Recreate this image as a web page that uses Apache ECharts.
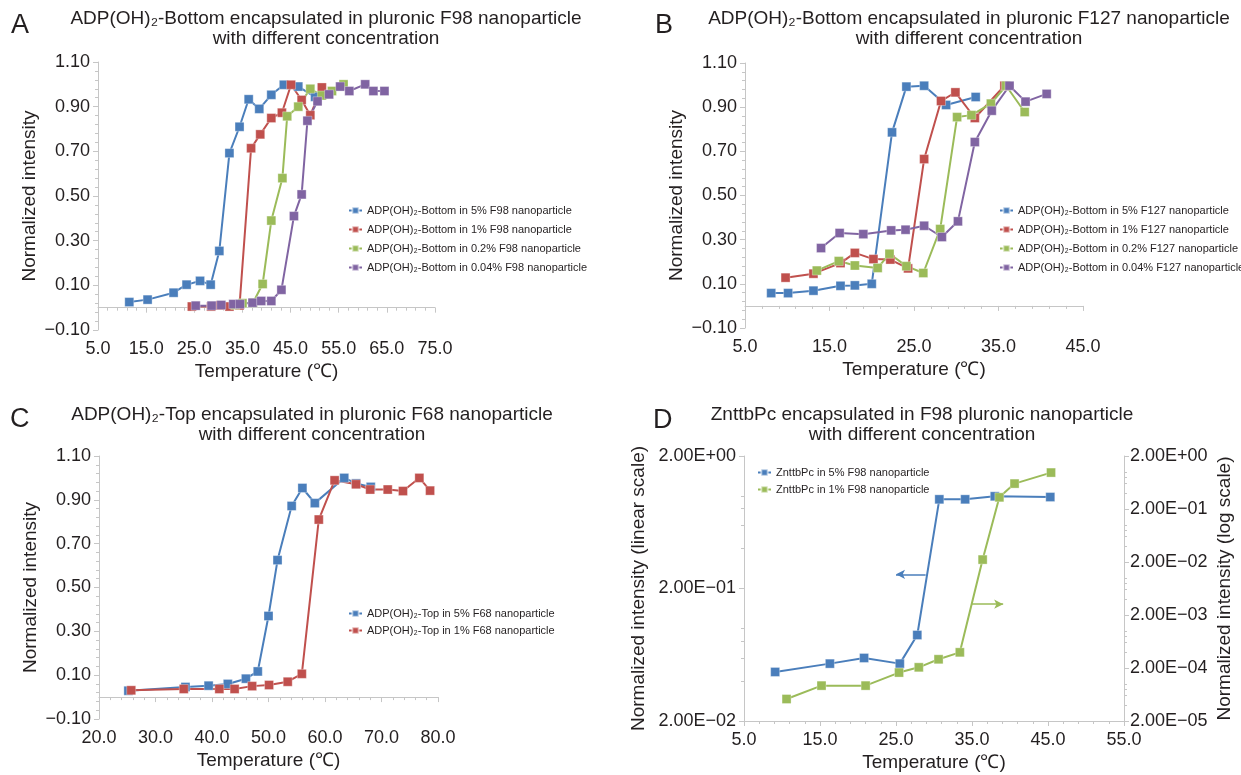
<!DOCTYPE html>
<html>
<head>
<meta charset="utf-8">
<title>Pluronic nanoparticle intensity vs temperature</title>
<script src="https://cdn.jsdelivr.net/npm/echarts@6/dist/echarts.min.js"></script>
<style>
  html, body { margin: 0; padding: 0; background: #fff; }
  #main { width: 1241px; height: 775px; }
</style>
</head>
<body>
<div id="main"></div>
<script>
// ---- data: [temperature (℃), normalized intensity] ----
// A: ADP(OH)2-Bottom in F98
const f98_5 = [[11.5, 0.025], [15.3, 0.036], [20.7, 0.067], [23.4, 0.103], [26.2, 0.12], [28.4, 0.103], [30.2, 0.254], [32.3, 0.692], [34.4, 0.81], [36.3, 0.933], [38.5, 0.89], [41.0, 0.953], [43.6, 0.998], [46.6, 0.99], [50.1, 0.944]]
const f98_1 = [[24.5, 0.005], [28.5, 0.005], [30.4, 0.01], [32.3, 0.005], [34.4, 0.01], [36.8, 0.714], [38.7, 0.776], [41.0, 0.849], [43.2, 0.873], [45.1, 0.998], [47.3, 0.93], [49.1, 0.862], [51.5, 0.986]]
const f98_02 = [[33.5, 0.012], [35.0, 0.02], [37.2, 0.022], [39.2, 0.106], [41.0, 0.39], [43.3, 0.58], [44.3, 0.857], [46.6, 0.90], [49.1, 0.98], [51.5, 0.95], [53.6, 0.97], [56.0, 1.0]]
const f98_004 = [[25.3, 0.009], [28.6, 0.009], [30.6, 0.012], [33.1, 0.016], [34.5, 0.016], [37.1, 0.022], [38.9, 0.03], [41.0, 0.03], [43.1, 0.08], [45.7, 0.41], [47.3, 0.507], [48.5, 0.837], [50.6, 0.924], [53.0, 0.955], [55.3, 0.99], [57.2, 0.97], [60.5, 1.0], [62.2, 0.97], [64.5, 0.97]]
// B: ADP(OH)2-Bottom in F127
const f127_5 = [[8.1, 0.058], [10.1, 0.058], [13.1, 0.069], [16.3, 0.091], [18.0, 0.093], [20.0, 0.10], [22.4, 0.786], [24.1, 0.993], [26.2, 0.997], [28.8, 0.91], [32.3, 0.946]]
const f127_1 = [[9.8, 0.128], [13.1, 0.146], [16.3, 0.194], [18.0, 0.24], [20.2, 0.212], [22.2, 0.21], [24.3, 0.17], [26.2, 0.665], [28.2, 0.928], [29.9, 0.967], [32.2, 0.851], [35.7, 0.997]]
const f127_02 = [[13.5, 0.16], [16.1, 0.203], [18.0, 0.183], [20.7, 0.172], [22.1, 0.236], [24.1, 0.18], [26.1, 0.149], [28.1, 0.348], [30.1, 0.855], [31.8, 0.864], [34.1, 0.916], [35.9, 0.997], [38.1, 0.878]]
const f127_004 = [[14.0, 0.262], [16.2, 0.33], [19.0, 0.325], [22.3, 0.342], [24.0, 0.345], [26.2, 0.363], [28.3, 0.312], [30.2, 0.383], [32.2, 0.742], [34.2, 0.884], [36.3, 0.997], [38.2, 0.925], [40.7, 0.96]]
// C: ADP(OH)2-Top in F68
const f68_5 = [[25.2, 0.029], [35.3, 0.046], [39.4, 0.052], [42.8, 0.06], [46.0, 0.084], [48.1, 0.117], [50.0, 0.37], [51.6, 0.625], [54.1, 0.872], [56.0, 0.954], [58.2, 0.885], [63.4, 1.0], [65.5, 0.975], [68.1, 0.959]]
const f68_1 = [[25.7, 0.031], [35.0, 0.037], [41.3, 0.037], [44.0, 0.037], [47.1, 0.05], [50.1, 0.055], [53.4, 0.07], [55.9, 0.106], [58.9, 0.81], [61.7, 0.989], [65.5, 0.971], [68.0, 0.947], [71.1, 0.947], [73.8, 0.94], [76.7, 1.0], [78.6, 0.942]]
// D: ZnttbPc in F98 (5% on left axis, 1% on right axis)
const zn5 = [[9.1, 0.0469], [16.3, 0.0542], [20.8, 0.0598], [25.5, 0.0542], [27.8, 0.0891], [30.7, 0.942], [34.1, 0.942], [38.0, 0.993], [45.3, 0.98]]
const zn1 = [[10.6, 5.2e-5], [15.2, 9.3e-5], [21.0, 9.3e-5], [25.4, 1.64e-4], [28.0, 2.06e-4], [30.6, 2.92e-4], [33.4, 3.95e-4], [36.4, 0.0222], [38.6, 0.332], [40.6, 0.603], [45.4, 0.973]]
// arrows pointing at the axis each curve belongs to
const arrowLeft = [[28.9, 0.256], [25.0, 0.256]]
const arrowRight = [[35.0, 3.2e-3], [39.1, 3.2e-3]]

// ---- tick labels ----
const xTicksA = [5, 15, 25, 35, 45, 55, 65, 75]
const xTicksB = [5, 15, 25, 35, 45]
const xTicksC = [20, 30, 40, 50, 60, 70, 80]
const xTicksD = [5, 15, 25, 35, 45, 55]
const yTicks = [-0.1, 0.1, 0.3, 0.5, 0.7, 0.9, 1.1]
const yTicksDLeft = [0.02, 0.2, 2]
const yTicksDRight = [2e-5, 2e-4, 2e-3, 2e-2, 2e-1, 2]

const namesA = ['ADP(OH)₂-Bottom in 5% F98 nanoparticle', 'ADP(OH)₂-Bottom in 1% F98 nanoparticle', 'ADP(OH)₂-Bottom in 0.2% F98 nanoparticle', 'ADP(OH)₂-Bottom in 0.04% F98 nanoparticle']
const namesB = ['ADP(OH)₂-Bottom in 5% F127 nanoparticle', 'ADP(OH)₂-Bottom in 1% F127 nanoparticle', 'ADP(OH)₂-Bottom in 0.2% F127 nanoparticle', 'ADP(OH)₂-Bottom in 0.04% F127 nanoparticle']
const namesC = ['ADP(OH)₂-Top in 5% F68 nanoparticle', 'ADP(OH)₂-Top in 1% F68 nanoparticle']
const namesD = ['ZnttbPc in 5% F98 nanoparticle', 'ZnttbPc in 1% F98 nanoparticle']

const FONT = "'Liberation Sans', Arial, Helvetica, sans-serif"
const TEXT = '#231f20'
const GREY = '#c6c6c6'
const BLUE = '#4a7ebb'
const RED = '#c0504d'
const GREEN = '#9bbb59'
const PURPLE = '#8064a2'

const chart = echarts.init(document.getElementById('main'))

// 标签格式
const fmtFixed = d => v => v.toFixed(d).replace('-', '−')
const fmtExp = v => {
  const parts = v.toExponential(2).split('e')
  const exp = parseInt(parts[1], 10)
  const sign = exp < 0 ? '−' : '+'
  return parts[0] + 'E' + sign + String(Math.abs(exp)).padStart(2, '0')
}

// 次刻度：在相邻主刻度之间等分
const minorLinear = (ticks, n) => {
  const out = []
  for (let i = 0; i < ticks.length - 1; i++) {
    const step = (ticks[i + 1] - ticks[i]) / n
    for (let k = 1; k < n; k++) out.push(+(ticks[i] + step * k).toFixed(6))
  }
  return out
}
// 对数轴次刻度 (2x,3x,4x,5x of each decade below the major tick)
const minorLog = ticks => {
  const out = []
  for (let i = 0; i < ticks.length - 1; i++) {
    const base = ticks[i] / 2
    ;[4, 6, 8, 10].forEach(m => out.push(+(base * m).toPrecision(4)))
  }
  return out
}

const xAxis = []
const yAxis = []

function mainAxis (list, gi, type, min, max, ticks, fmt, margin, extra) {
  list.push(Object.assign({
    gridIndex: gi,
    type: type,
    min: min,
    max: max,
    axisLine: { show: true, lineStyle: { color: GREY, width: 1 } },
    axisTick: { show: true, length: 5, customValues: ticks, lineStyle: { color: GREY } },
    axisLabel: { customValues: ticks, formatter: fmt, color: TEXT, fontSize: 18, fontFamily: FONT, margin: margin },
    splitLine: { show: false },
    nameLocation: 'middle',
    nameTextStyle: { color: TEXT, fontSize: 19, fontFamily: FONT }
  }, extra))
  return list.length - 1
}
function minorAxis (list, gi, type, min, max, ticks, extra) {
  list.push(Object.assign({
    gridIndex: gi,
    type: type,
    min: min,
    max: max,
    axisLine: { show: false },
    axisTick: { show: true, length: 3, customValues: ticks, lineStyle: { color: GREY } },
    axisLabel: { show: false },
    splitLine: { show: false }
  }, extra))
}

// x axes
const xName = { name: 'Temperature (℃)', nameGap: 32, position: 'bottom' }
const xA = mainAxis(xAxis, 0, 'value', 5, 75, xTicksA, fmtFixed(1), 10, xName)
const xB = mainAxis(xAxis, 1, 'value', 5, 45, xTicksB, fmtFixed(1), 10, xName)
const xC = mainAxis(xAxis, 2, 'value', 20, 80, xTicksC, fmtFixed(1), 10, xName)
const xD = mainAxis(xAxis, 3, 'value', 5, 55, xTicksD, fmtFixed(1), 10, xName)
minorAxis(xAxis, 0, 'value', 5, 75, minorLinear(xTicksA, 5), { position: 'bottom' })
minorAxis(xAxis, 1, 'value', 5, 45, minorLinear(xTicksB, 5), { position: 'bottom' })
minorAxis(xAxis, 2, 'value', 20, 80, minorLinear(xTicksC, 5), { position: 'bottom' })
minorAxis(xAxis, 3, 'value', 5, 55, minorLinear(xTicksD, 5), { position: 'bottom' })

// y axes
const yName = { name: 'Normalized intensity', nameGap: 59, position: 'left' }
const yA = mainAxis(yAxis, 0, 'value', -0.1, 1.1, yTicks, fmtFixed(2), 8, yName)
const yB = mainAxis(yAxis, 1, 'value', -0.1, 1.1, yTicks, fmtFixed(2), 8, yName)
const yC = mainAxis(yAxis, 2, 'value', -0.1, 1.1, yTicks, fmtFixed(2), 8, yName)
const yDL = mainAxis(yAxis, 3, 'log', 0.02, 2, yTicksDLeft, fmtExp, 8, { name: 'Normalized intensity (linear scale)', nameGap: 96, position: 'left' })
const yDR = mainAxis(yAxis, 3, 'log', 2e-5, 2, yTicksDRight, fmtExp, 6, { name: 'Normalized intensity (log scale)', nameGap: 91, position: 'right' })
minorAxis(yAxis, 0, 'value', -0.1, 1.1, minorLinear(yTicks, 5), { position: 'left' })
minorAxis(yAxis, 1, 'value', -0.1, 1.1, minorLinear(yTicks, 5), { position: 'left' })
minorAxis(yAxis, 2, 'value', -0.1, 1.1, minorLinear(yTicks, 5), { position: 'left' })
minorAxis(yAxis, 3, 'log', 0.02, 2, minorLog(yTicksDLeft), { position: 'left' })
minorAxis(yAxis, 3, 'log', 2e-5, 2, minorLog(yTicksDRight), { position: 'right' })

function line (name, data, color, xi, yi) {
  return {
    type: 'line',
    name: name,
    data: data,
    xAxisIndex: xi,
    yAxisIndex: yi,
    symbol: 'rect',
    symbolSize: 9,
    showSymbol: true,
    lineStyle: { color: color, width: 2 },
    itemStyle: { color: color, borderColor: 'rgba(255,255,255,0.55)', borderWidth: 0.6 },
    emphasis: { disabled: true },
    silent: true
  }
}
function arrow (pts, color) {
  return {
    silent: true,
    symbol: ['none', 'arrow'],
    symbolSize: [7, 9],
    label: { show: false },
    lineStyle: { color: color, width: 1.5, type: 'solid' },
    data: [[{ coord: pts[0] }, { coord: pts[1] }]]
  }
}

const series = [
  line(namesA[0], f98_5, BLUE, xA, yA),
  line(namesA[1], f98_1, RED, xA, yA),
  line(namesA[2], f98_02, GREEN, xA, yA),
  line(namesA[3], f98_004, PURPLE, xA, yA),
  line(namesB[0], f127_5, BLUE, xB, yB),
  line(namesB[1], f127_1, RED, xB, yB),
  line(namesB[2], f127_02, GREEN, xB, yB),
  line(namesB[3], f127_004, PURPLE, xB, yB),
  line(namesC[0], f68_5, BLUE, xC, yC),
  line(namesC[1], f68_1, RED, xC, yC),
  Object.assign(line(namesD[0], zn5, BLUE, xD, yDL), { markLine: arrow(arrowLeft, BLUE) }),
  Object.assign(line(namesD[1], zn1, GREEN, xD, yDR), { markLine: arrow(arrowRight, GREEN) })
]

const legendBase = {
  orient: 'vertical',
  padding: 0,
  itemWidth: 13,
  itemHeight: 8,
  selectedMode: false,
  textStyle: { fontSize: 11, color: TEXT, fontFamily: FONT }
}

const titleStyle = { fontSize: 19, fontWeight: 'normal', color: TEXT, fontFamily: FONT, lineHeight: 20 }
const letterStyle = { fontSize: 27, fontWeight: 'normal', color: TEXT, fontFamily: FONT }
const heading = (text, cx, top) => ({ text: text, left: cx, top: top, textAlign: 'center', padding: 0, textStyle: titleStyle })
const letter = (text, x, y) => ({ text: text, left: x, top: y, padding: 0, textStyle: letterStyle })

const option = {
  animation: false,
  backgroundColor: '#fff',
  textStyle: { fontFamily: FONT },
  title: [
    letter('A', 11, 12),
    letter('B', 655, 12),
    letter('C', 10, 406),
    letter('D', 653, 407),
    heading('ADP(OH)₂-Bottom encapsulated in pluronic F98 nanoparticle\nwith different concentration', 326, 9),
    heading('ADP(OH)₂-Bottom encapsulated in pluronic F127 nanoparticle\nwith different concentration', 969, 9),
    heading('ADP(OH)₂-Top encapsulated in pluronic F68 nanoparticle\nwith different concentration', 312, 405),
    heading('ZnttbPc encapsulated in F98 pluronic nanoparticle\nwith different concentration', 922, 405)
  ],
  legend: [
    Object.assign({ data: namesA, left: 348, top: 205, itemGap: 8 }, legendBase),
    Object.assign({ data: namesB, left: 999, top: 205, itemGap: 8 }, legendBase),
    Object.assign({ data: namesC, left: 348, top: 608, itemGap: 6 }, legendBase),
    Object.assign({ data: namesD, left: 757, top: 467, itemGap: 6 }, legendBase)
  ],
  grid: [
    { left: 98, top: 62, width: 337, height: 268 },
    { left: 745, top: 63, width: 338, height: 265 },
    { left: 99, top: 456, width: 339, height: 263 },
    { left: 744, top: 456, width: 380, height: 265 }
  ],
  xAxis: xAxis,
  yAxis: yAxis,
  series: series
}

chart.setOption(option)
</script>
</body>
</html>
